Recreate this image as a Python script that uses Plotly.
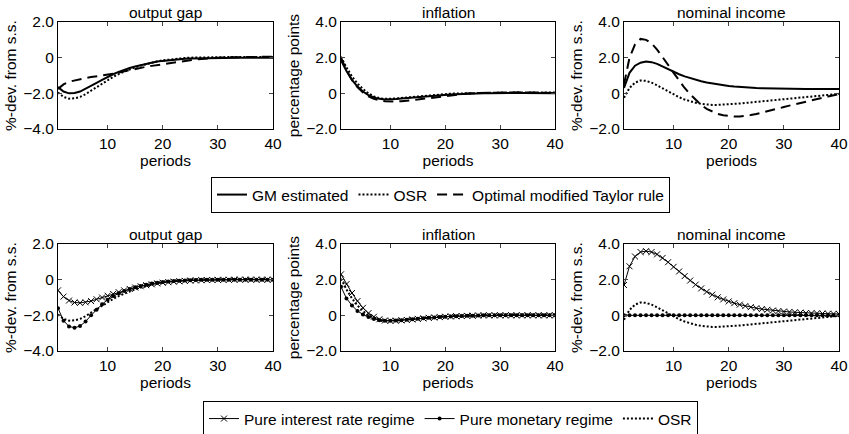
import plotly.graph_objects as go

periods = list(range(1, 41))

panel_titles = ["output gap", "inflation", "nominal income"]
y_titles = ["%-dev. from s.s.", "percentage points", "%-dev. from s.s."]
x_label = "periods"
x_tick_vals = [10, 20, 30, 40]
y_tick_vals_gap = [-4, -2, 0, 2]
y_tick_text_gap = ["−4.0", "−2.0", "0", "2.0"]
y_tick_vals_other = [-2, 0, 2, 4]
y_tick_text_other = ["−2.0", "0", "2.0", "4.0"]

# ---- top row: GM estimated / OSR / Optimal modified Taylor rule ----
gm_gap = [-1.65, -1.9, -2.0, -1.98, -1.9, -1.75, -1.58, -1.42, -1.25, -1.08,
          -0.93, -0.8, -0.68, -0.58, -0.5, -0.42, -0.34, -0.28, -0.22, -0.18,
          -0.14, -0.11, -0.08, -0.06, -0.05, -0.04, -0.03, -0.02, -0.01, -0.01,
          0, 0, 0, 0, 0, 0, 0, 0, 0, 0]
osr_gap = [-1.95, -2.2, -2.3, -2.28, -2.2, -2.05, -1.85, -1.65, -1.45, -1.25,
           -1.08, -0.92, -0.78, -0.65, -0.54, -0.44, -0.35, -0.27, -0.21, -0.15,
           -0.11, -0.07, -0.04, -0.02, 0.0, 0.01, 0.02, 0.03, 0.03, 0.04,
           0.04, 0.04, 0.04, 0.04, 0.04, 0.03, 0.03, 0.03, 0.03, 0.03]
tay_gap = [-1.75, -1.5, -1.35, -1.27, -1.2, -1.14, -1.09, -1.05, -1.0, -0.96,
           -0.9, -0.83, -0.76, -0.69, -0.62, -0.56, -0.51, -0.46, -0.41, -0.36,
           -0.31, -0.26, -0.21, -0.17, -0.13, -0.1, -0.07, -0.04, -0.02, 0.0,
           0.01, 0.02, 0.03, 0.04, 0.05, 0.05, 0.05, 0.05, 0.05, 0.05]

gm_inf = [1.85, 1.25, 0.75, 0.38, 0.1, -0.1, -0.23, -0.31, -0.34, -0.34,
          -0.32, -0.29, -0.26, -0.23, -0.2, -0.17, -0.14, -0.12, -0.1, -0.08,
          -0.06, -0.05, -0.03, -0.02, -0.01, 0.0, 0.01, 0.01, 0.02, 0.02,
          0.02, 0.02, 0.02, 0.02, 0.02, 0.01, 0.01, 0.01, 0.01, 0.01]
osr_inf = [2.05, 1.45, 0.95, 0.55, 0.25, 0.0, -0.17, -0.27, -0.31, -0.31,
           -0.29, -0.26, -0.23, -0.2, -0.17, -0.14, -0.11, -0.08, -0.06, -0.04,
           -0.02, -0.01, 0.0, 0.01, 0.02, 0.03, 0.04, 0.04, 0.05, 0.05,
           0.05, 0.05, 0.05, 0.05, 0.05, 0.04, 0.04, 0.04, 0.04, 0.04]
tay_inf = [2.0, 1.3, 0.75, 0.35, 0.05, -0.17, -0.31, -0.4, -0.44, -0.46,
           -0.46, -0.44, -0.42, -0.39, -0.35, -0.31, -0.27, -0.22, -0.17, -0.13,
           -0.09, -0.06, -0.03, -0.01, 0.01, 0.02, 0.03, 0.04, 0.05, 0.05,
           0.06, 0.06, 0.06, 0.06, 0.05, 0.05, 0.04, 0.03, 0.03, 0.02]

gm_nom = [0.3, 1.15, 1.55, 1.72, 1.78, 1.75, 1.65, 1.5, 1.35, 1.2,
          1.07, 0.95, 0.85, 0.76, 0.68, 0.61, 0.55, 0.5, 0.45, 0.41,
          0.38, 0.35, 0.33, 0.31, 0.3, 0.29, 0.28, 0.27, 0.27, 0.26,
          0.26, 0.26, 0.25, 0.25, 0.25, 0.25, 0.25, 0.25, 0.25, 0.25]
osr_nom = [-0.25, 0.3, 0.6, 0.72, 0.7, 0.6, 0.45, 0.28, 0.1, -0.07,
           -0.22, -0.35, -0.45, -0.53, -0.59, -0.63, -0.65, -0.65, -0.64, -0.62,
           -0.6, -0.57, -0.54, -0.51, -0.48, -0.45, -0.42, -0.39, -0.36, -0.33,
           -0.3, -0.27, -0.24, -0.21, -0.18, -0.15, -0.12, -0.09, -0.06, -0.03]
tay_nom = [0.5, 2.0, 2.75, 3.05, 3.0, 2.8, 2.45, 2.05, 1.6, 1.15,
           0.7, 0.3, -0.05, -0.38, -0.65, -0.87, -1.03, -1.15, -1.23, -1.28,
           -1.3, -1.3, -1.27, -1.22, -1.16, -1.09, -1.01, -0.93, -0.85, -0.77,
           -0.69, -0.61, -0.53, -0.46, -0.39, -0.32, -0.25, -0.18, -0.11, -0.05]

# ---- bottom row: pure interest rate / pure monetary regime ----
pir_gap = [-0.6, -0.95, -1.17, -1.28, -1.3, -1.27, -1.2, -1.1, -1.0, -0.9,
           -0.8, -0.7, -0.6, -0.52, -0.44, -0.37, -0.31, -0.26, -0.21, -0.17,
           -0.14, -0.11, -0.09, -0.07, -0.05, -0.04, -0.03, -0.02, -0.02, -0.01,
           -0.01, -0.01, 0, 0, 0, 0, 0, 0, 0, 0]
pmr_gap = [-1.6, -2.3, -2.62, -2.7, -2.6, -2.35, -2.0, -1.68, -1.38, -1.12,
           -0.92, -0.76, -0.63, -0.52, -0.43, -0.35, -0.28, -0.22, -0.17, -0.13,
           -0.1, -0.08, -0.06, -0.04, -0.03, -0.02, -0.01, 0, 0, 0,
           0, 0, 0, 0, 0, 0, 0, 0, 0, 0]
pir_inf = [2.3, 1.75, 1.25, 0.8, 0.42, 0.12, -0.08, -0.22, -0.29, -0.31,
           -0.3, -0.28, -0.26, -0.23, -0.2, -0.17, -0.14, -0.12, -0.1, -0.08,
           -0.06, -0.05, -0.04, -0.03, -0.02, -0.01, 0, 0, 0, 0,
           0, 0, 0, 0, 0, 0, 0, 0, 0, 0]
pmr_inf = [1.6, 0.95, 0.55, 0.25, 0.05, -0.1, -0.2, -0.27, -0.3, -0.3,
           -0.29, -0.27, -0.25, -0.22, -0.19, -0.16, -0.14, -0.12, -0.1, -0.08,
           -0.06, -0.05, -0.04, -0.03, -0.02, -0.01, 0, 0, 0, 0,
           0, 0, 0, 0, 0, 0, 0, 0, 0, 0]
pir_nom = [1.7, 2.75, 3.3, 3.55, 3.6, 3.55, 3.42, 3.22, 2.98, 2.72,
           2.46, 2.2, 1.95, 1.72, 1.51, 1.32, 1.16, 1.01, 0.89, 0.78,
           0.68, 0.6, 0.52, 0.46, 0.4, 0.35, 0.31, 0.27, 0.24, 0.21,
           0.19, 0.17, 0.15, 0.13, 0.12, 0.11, 0.1, 0.09, 0.08, 0.08]
pmr_nom = [0.0] * 40

W, H = 849, 434
FONT = "Liberation Sans, Arial, Helvetica, sans-serif"
FS = 15.5
col_px = [(58, 273), (341, 555), (624, 839)]
row_px = [(22, 129), (244, 351)]


def fx(px):
    return px / W


def fy(py):
    return 1 - py / H


fig = go.Figure()
layout = dict(
    width=W, height=H, margin=dict(l=0, r=0, t=0, b=0, autoexpand=False),
    paper_bgcolor="white", plot_bgcolor="white",
    font=dict(family=FONT, size=FS, color="black"),
)
annotations = []


def axis_id(r, c):
    return r * 3 + c + 1


for r in range(2):
    for c in range(3):
        k = axis_id(r, c)
        xd = [fx(col_px[c][0]), fx(col_px[c][1])]
        yd = [fy(row_px[r][1]), fy(row_px[r][0])]
        if c == 0:
            yr, tv, tt = [-4, 2], y_tick_vals_gap, y_tick_text_gap
        else:
            yr, tv, tt = [-2, 4], y_tick_vals_other, y_tick_text_other
        xs = "xaxis" if k == 1 else f"xaxis{k}"
        ys = "yaxis" if k == 1 else f"yaxis{k}"
        layout[xs] = dict(domain=xd, anchor=f"y{k if k > 1 else ''}", range=[1, 40],
                          tickvals=x_tick_vals, ticks="inside", ticklen=4,
                          showline=True, linecolor="black", linewidth=1, mirror="ticks",
                          showgrid=False, zeroline=False, automargin=False,
                          title=dict(text=x_label, standoff=3, font=dict(size=FS)),
                          tickfont=dict(size=FS))
        layout[ys] = dict(domain=yd, anchor=f"x{k if k > 1 else ''}", range=yr,
                          tickvals=tv, ticktext=tt, ticks="inside", ticklen=4,
                          showline=True, linecolor="black", linewidth=1, mirror="ticks",
                          showgrid=False, zeroline=False, automargin=False,
                          title=dict(text=y_titles[c], standoff=2, font=dict(size=FS)),
                          tickfont=dict(size=FS))
        annotations.append(dict(text=panel_titles[c], xref="paper", yref="paper",
                                x=(xd[0] + xd[1]) / 2, y=yd[1], yanchor="bottom",
                                xanchor="center", showarrow=False, yshift=-1,
                                font=dict(size=FS)))

top_series = [(gm_gap, osr_gap, tay_gap), (gm_inf, osr_inf, tay_inf), (gm_nom, osr_nom, tay_nom)]
bot_series = [(pir_gap, pmr_gap, osr_gap), (pir_inf, pmr_inf, osr_inf), (pir_nom, pmr_nom, osr_nom)]

for c in range(3):
    k = axis_id(0, c)
    xa = "x" if k == 1 else f"x{k}"
    ya = "y" if k == 1 else f"y{k}"
    gm, osr, tay = top_series[c]
    fig.add_trace(go.Scatter(x=periods, y=gm, mode="lines", name="GM estimated",
                             line=dict(color="black", width=2), xaxis=xa, yaxis=ya,
                             legend="legend", showlegend=(c == 0)))
    fig.add_trace(go.Scatter(x=periods, y=osr, mode="lines", name="OSR",
                             line=dict(color="black", width=2, dash="2px,2px"), xaxis=xa, yaxis=ya,
                             legend="legend", showlegend=(c == 0)))
    fig.add_trace(go.Scatter(x=periods, y=tay, mode="lines", name="Optimal modified Taylor rule",
                             line=dict(color="black", width=2, dash="10px,6px"), xaxis=xa, yaxis=ya,
                             legend="legend", showlegend=(c == 0)))

for c in range(3):
    k = axis_id(1, c)
    xa = f"x{k}"
    ya = f"y{k}"
    pir, pmr, osr = bot_series[c]
    fig.add_trace(go.Scatter(x=periods, y=pir, mode="lines+markers", name="Pure interest rate regime",
                             line=dict(color="black", width=1),
                             marker=dict(symbol="x-thin-open", size=6, color="black",
                                         line=dict(width=1, color="black")),
                             xaxis=xa, yaxis=ya, legend="legend2", showlegend=(c == 0)))
    fig.add_trace(go.Scatter(x=periods, y=pmr, mode="lines+markers", name="Pure monetary regime",
                             line=dict(color="black", width=1),
                             marker=dict(symbol="circle", size=4, color="black"),
                             xaxis=xa, yaxis=ya, legend="legend2", showlegend=(c == 0)))
    fig.add_trace(go.Scatter(x=periods, y=osr, mode="lines", name="OSR",
                             line=dict(color="black", width=2, dash="2px,2px"),
                             xaxis=xa, yaxis=ya, legend="legend2", showlegend=(c == 0)))

layout["legend"] = dict(orientation="h", x=fx(211), y=fy(177), xanchor="left", yanchor="top",
                        bordercolor="black", borderwidth=1, bgcolor="white",
                        font=dict(size=FS), tracegroupgap=0)
layout["legend2"] = dict(orientation="h", x=fx(203), y=fy(401), xanchor="left", yanchor="top",
                         bordercolor="black", borderwidth=1, bgcolor="white",
                         font=dict(size=FS), tracegroupgap=0)
layout["annotations"] = annotations
fig.update_layout(**layout)
fig.write_html("out.html", config={"displayModeBar": False},
               post_script="document.body.style.margin='0';document.body.style.overflow='hidden';"
                           "document.documentElement.style.overflow='hidden';")
